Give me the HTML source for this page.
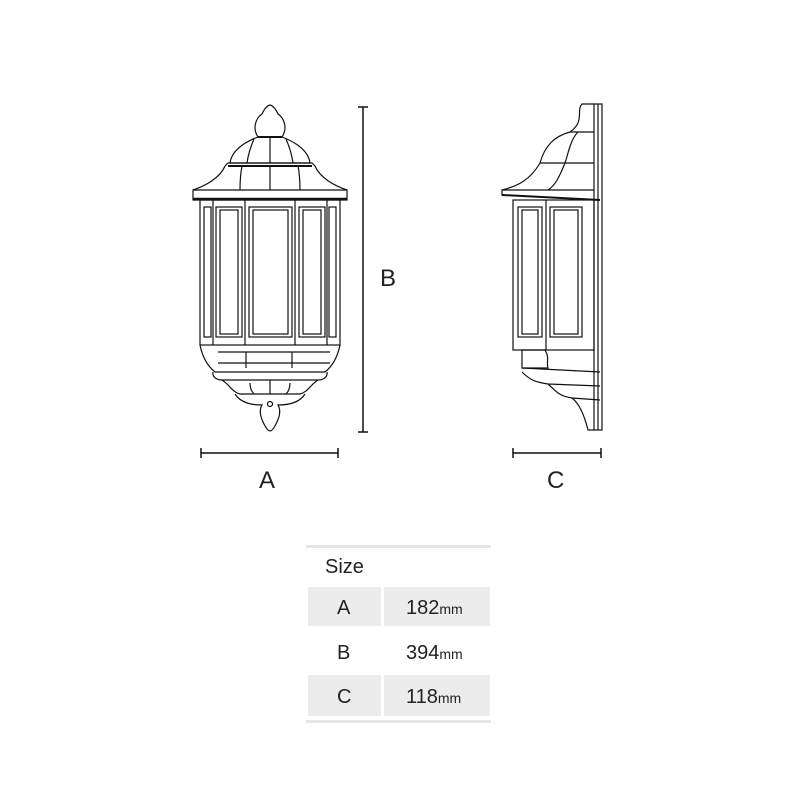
<!DOCTYPE html>
<html><head><style>
body{margin:0;background:#fff;}
svg text{font-family:"Liberation Sans",sans-serif;fill:#222;}
</style></head><body>
<svg width="800" height="800" viewBox="0 0 800 800" xmlns="http://www.w3.org/2000/svg">
<g fill="none" stroke="#111" stroke-width="1.2">
<path d="M258,137 C252,128 256,118 262,114 C264,110 266,106 270,105 C274,106 276,110 278,114 C284,118 288,128 282,137 Z"/>
<path d="M230,163 C232,148 250,140 258,137 L282,137 C290,140 308,148 310,163 Z"/>
<line x1="258" y1="137" x2="282" y2="137" stroke-width="2"/>
<path d="M254,139 C250,148 248,156 247,163 M286,139 C290,148 292,156 293,163 M270,137 L270,163"/>
<path d="M228,163 L312,163 L315,166 C320,178 335,186 347,190 L347,200 L193,200 L193,190 C205,186 220,178 225,166 Z"/>
<line x1="228" y1="166" x2="312" y2="166" stroke-width="2"/>
<path d="M242,166 C240,176 240,184 240,190 M298,166 C300,176 300,184 300,190 M270,166 L270,190 M193,190 L347,190"/>
<line x1="193" y1="199" x2="347" y2="199" stroke-width="2.5"/>
<rect x="200" y="200" width="140" height="145"/>
<path d="M213,200 V345 M245,200 V345 M295,200 V345 M327,200 V345"/>
<rect x="204" y="207" width="7" height="130"/>
<rect x="216" y="207" width="26" height="130"/>
<rect x="220" y="210" width="18" height="124"/>
<rect x="249" y="207" width="43" height="130"/>
<rect x="253" y="210" width="35" height="124"/>
<rect x="299" y="207" width="26" height="130"/>
<rect x="303" y="210" width="18" height="124"/>
<rect x="329" y="207" width="7" height="130"/>
<path d="M200,345 C203,360 210,368 215,372 L325,372 C330,368 337,360 340,345"/>
<path d="M218,352 H330 M218,363 H330 M246,352 V368 M292,352 V368"/>
<path d="M213,372 C212,378 218,380 222,380 L318,380 C322,380 328,378 327,372"/>
<path d="M222,380 C230,385 232,392 240,394 L300,394 C308,392 310,385 318,380"/>
<path d="M235,394 C240,402 250,405 262,405 C258,412 262,420 264,424 C266,428 268,431 270,431 C272,431 274,428 276,424 C278,420 282,412 278,405 C290,405 300,402 305,394"/>
<circle cx="270" cy="404" r="2.5"/>
<path d="M250,383 C250,388 252,392 254,394 M290,383 C290,388 288,392 286,394 M270,380 V394"/>

<rect x="594" y="104" width="8" height="326"/>
<path d="M598,104 V430"/>
<path d="M594,104 L582,104 C576,110 585,122 570,132 L594,132"/>
<path d="M570,132 C555,136 545,145 540,163 L594,163"/>
<path d="M540,163 C530,180 518,186 502,190 L502,195 L600,200"/>
<path d="M578,132 C570,140 568,155 565,163 M565,163 C560,175 556,185 548,190 M502,190 L594,190"/>
<line x1="502" y1="195" x2="600" y2="200" stroke-width="2"/>
<rect x="513" y="200" width="81" height="150"/>
<path d="M546,200 V350"/>
<rect x="518" y="207" width="24" height="130"/><rect x="522" y="210" width="16" height="124"/>
<rect x="550" y="207" width="32" height="130"/><rect x="554" y="210" width="24" height="124"/>
<path d="M522,350 L545,350 C550,358 546,362 548,368 L522,368 Z"/>
<path d="M522,368 L600,372 M522,372 C530,380 535,382 548,384 L600,386 M548,384 C555,390 558,396 572,398 L600,400 M572,398 C580,404 585,418 588,430 L594,430"/>
</g>
<g stroke="#111" stroke-width="1.5">
<line x1="363" y1="107" x2="363" y2="432"/><line x1="358" y1="107" x2="368" y2="107"/><line x1="358" y1="432" x2="368" y2="432"/>
<line x1="201" y1="453" x2="338" y2="453"/><line x1="201" y1="448" x2="201" y2="458"/><line x1="338" y1="448" x2="338" y2="458"/>
<line x1="513" y1="453" x2="601" y2="453"/><line x1="513" y1="448" x2="513" y2="458"/><line x1="601" y1="448" x2="601" y2="458"/>
</g>
<g font-size="24">
<text x="259" y="488">A</text>
<text x="380" y="286">B</text>
<text x="547" y="488">C</text>
</g>
<rect x="306" y="545" width="185" height="3" fill="#e6e6e6"/>
<rect x="306" y="720" width="185" height="3" fill="#e6e6e6"/>
<rect x="308" y="587" width="73" height="39" fill="#ececec"/>
<rect x="384" y="587" width="106" height="39" fill="#ececec"/>
<rect x="308" y="675" width="73" height="41" fill="#ececec"/>
<rect x="384" y="675" width="106" height="41" fill="#ececec"/>
<g font-size="20">
<text x="325" y="573">Size</text>
<text x="337" y="614">A</text>
<text x="337" y="659">B</text>
<text x="337" y="703">C</text>
<text x="406" y="614">182<tspan font-size="14">mm</tspan></text>
<text x="406" y="659">394<tspan font-size="14">mm</tspan></text>
<text x="406" y="703">118<tspan font-size="14">mm</tspan></text>
</g>
</svg>
</body></html>
